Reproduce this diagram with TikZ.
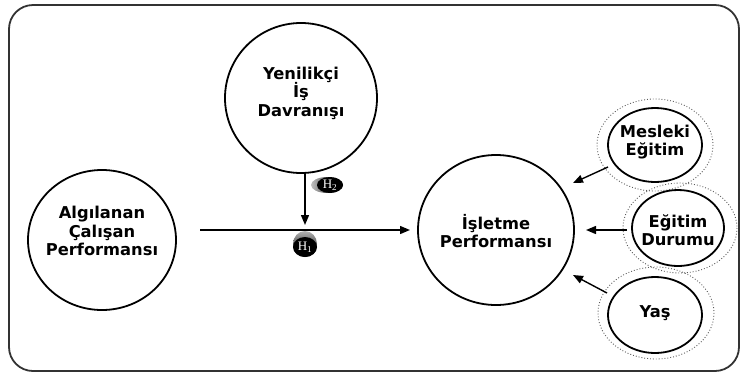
\documentclass[tikz,border=0pt]{standalone}
\usepackage{fontspec}
\setmainfont{DejaVu Sans}
\newfontfamily\hfont{Liberation Serif}
\usetikzlibrary{arrows.meta,shapes.geometric}
\begin{document}
\begin{tikzpicture}[x=1pt,y=-1pt,
  var/.style={draw=black,line width=1.8pt},
  lbl/.style={font=\bfseries\fontsize{16.3}{18.5}\selectfont,align=center},
  dotring/.style={draw=black!65,dotted,line width=0.9pt},
  arr/.style={line width=1.4pt,-{Triangle[length=10pt,width=8pt]}},
  hbadge/.style={ellipse,inner sep=0pt,text=white,font=\hfont\fontsize{13}{13}\selectfont}]
\useasboundingbox (0,0) rectangle (748,376);
\draw[line width=1.8pt,black!80,rounded corners=24pt] (9,5) rectangle (739,371);
% ellipses
\draw[var] (301,98) ellipse [x radius=76,y radius=75];
\node[lbl] (yen) at (301,93) {Yenilikçi\\İş\\Davranışı};
\coordinate (yenb) at (305,173);
\draw[var] (102,240) ellipse [x radius=74,y radius=70];
\node[lbl] (alg) at (102,231) {Algılanan\\Çalışan\\Performansı};
\draw[var] (496,230) ellipse [x radius=78,y radius=75];
\node[lbl] (isl) at (496,231) {İşletme\\Performansı};
% moderators
\draw[dotring] (655,145) ellipse [x radius=58,y radius=46];
\draw[dotring] (680,228) ellipse [x radius=57,y radius=45];
\draw[dotring] (656,313) ellipse [x radius=58,y radius=46];
\draw[var] (655,145) ellipse [x radius=47,y radius=37];
\node[lbl] (mes) at (655,142) {Mesleki\\Eğitim};
\draw[var] (678,228) ellipse [x radius=46,y radius=38];
\node[lbl] (egi) at (678,230) {Eğitim\\Durumu};
\draw[var] (655,315) ellipse [x radius=47,y radius=38];
\node[lbl] (yas) at (655,313) {Yaş};
% arrows
\coordinate (a1) at (200,230);
\coordinate (a2) at (410,230);
\draw[arr] (a1) -- (a2);
\coordinate (b2) at (305,225);
\draw[arr] (yenb) -- (b2);
\coordinate (m1) at (608,167); \coordinate (m2) at (573,183);
\draw[arr] (m1) -- (m2);
\coordinate (e1) at (627,230); \coordinate (e2) at (586,230);
\draw[arr] (e1) -- (e2);
\coordinate (y1) at (607,293); \coordinate (y2) at (573,275);
\draw[arr] (y1) -- (y2);
% badges
\node[hbadge,minimum width=32pt,minimum height=16pt,left color=black!25,right color=black,shading angle=90] (h2) at (327,185) {};
\node[hbadge,minimum width=26pt,minimum height=16pt,fill=black] at (330,185) {};
\node[hbadge] (h2t) at (330,185) {H\textsubscript{2}};
\node[hbadge,minimum width=24pt,minimum height=26pt,top color=black!30,bottom color=black] (h1) at (305,244) {};
\node[hbadge,minimum width=24pt,minimum height=20pt,fill=black] at (305,247) {};
\node[hbadge] (h1t) at (305,247) {H\textsubscript{1}};
\end{tikzpicture}
\end{document}
